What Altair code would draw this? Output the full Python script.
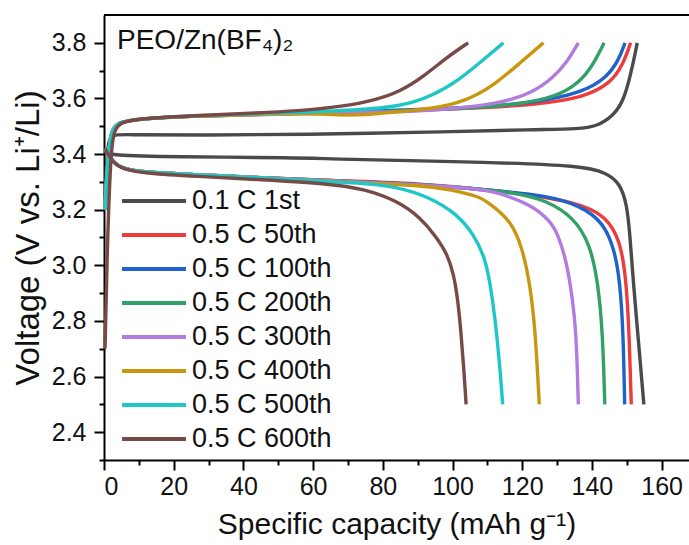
import altair as alt
import pandas as pd

series_names = ["0.1 C 1st", "0.5 C 50th", "0.5 C 100th", "0.5 C 200th",
                "0.5 C 300th", "0.5 C 400th", "0.5 C 500th", "0.5 C 600th"]
series_colors = ["#4a4a4a", "#ee3b3b", "#1e63c9", "#32a068", "#b27be0",
                 "#c9970d", "#1fc6c8", "#774a47"]

# ---- charge curves (capacity, voltage) ----
c1st_x = [0.3, 1.0, 1.8, 5, 29, 56, 100, 123, 136.6, 141.4, 146.1, 149.0, 150.9, 152.4, 153.0]
c1st_v = [3.25, 3.43, 3.47, 3.470, 3.468, 3.470, 3.480, 3.488, 3.490, 3.500, 3.537, 3.590, 3.675, 3.760, 3.80]
c50_x = [0.3, 1.2, 2.5, 5, 10, 25, 56, 100, 125, 137.5, 145.2, 149.0, 151.1]
c50_v = [3.20, 3.42, 3.50, 3.515, 3.527, 3.536, 3.547, 3.560, 3.578, 3.604, 3.652, 3.723, 3.80]
c100_x = [0.3, 1.2, 2.5, 5, 10, 25, 56, 100, 123.2, 137.5, 144.2, 147.6, 149.5]
c100_v = [3.20, 3.42, 3.50, 3.515, 3.527, 3.537, 3.548, 3.562, 3.582, 3.622, 3.675, 3.735, 3.80]
c200_x = [0.3, 1.2, 2.5, 5, 10, 25, 56, 90, 113.6, 128.0, 134.7, 139.5, 143.5]
c200_v = [3.20, 3.42, 3.50, 3.515, 3.527, 3.537, 3.547, 3.555, 3.570, 3.598, 3.640, 3.700, 3.80]
c300_x = [0.3, 1.2, 2.5, 5, 10, 25, 56, 80, 94.5, 113.6, 123.2, 128.9, 132.8, 136.1]
c300_v = [3.20, 3.42, 3.50, 3.515, 3.527, 3.537, 3.545, 3.550, 3.556, 3.580, 3.622, 3.675, 3.729, 3.80]
c400_x = [0.3, 1.2, 2.5, 5, 10, 25, 56, 63, 66, 76, 80, 94.5, 104.1, 111.7, 118.4, 126.1]
c400_v = [3.20, 3.42, 3.50, 3.515, 3.527, 3.537, 3.546, 3.544, 3.540, 3.541, 3.548, 3.562, 3.592, 3.646, 3.717, 3.80]
c500_x = [0.3, 1.2, 2.5, 5, 10, 25, 56, 72, 84.9, 94.5, 102.2, 107.9, 114.6]
c500_v = [3.20, 3.42, 3.50, 3.515, 3.527, 3.538, 3.550, 3.558, 3.570, 3.610, 3.670, 3.729, 3.80]
c600_x = [0.3, 1.0, 2.0, 3.0, 5, 10, 25, 45, 56, 65, 75.4, 84.9, 92.6, 98.3, 104.5]
c600_v = [2.70, 3.10, 3.42, 3.49, 3.515, 3.527, 3.538, 3.548, 3.556, 3.566, 3.586, 3.622, 3.688, 3.747, 3.80]

# ---- discharge curves (capacity, voltage) ----
d1st_x = [0.3, 1.5, 20, 56, 65, 112.7, 136.6, 144.2, 148.1, 150.0, 150.9, 151.9, 153.6, 154.9]
d1st_v = [3.41, 3.395, 3.390, 3.387, 3.382, 3.370, 3.358, 3.334, 3.293, 3.221, 3.113, 2.934, 2.694, 2.50]
d50_x = [0.3, 2.5, 5.4, 12, 26.5, 45, 65, 90, 112.7, 136.6, 144.2, 148.1, 149.8, 150.7, 151.3]
d50_v = [3.42, 3.37, 3.347, 3.334, 3.326, 3.315, 3.305, 3.295, 3.270, 3.227, 3.173, 3.089, 2.957, 2.754, 2.50]
d100_x = [0.3, 2.5, 5.4, 12, 26.5, 45, 65, 90, 112.7, 127.0, 136.6, 143.3, 146.6, 148.1, 149.0, 149.4]
d100_v = [3.42, 3.37, 3.347, 3.334, 3.326, 3.315, 3.304, 3.293, 3.268, 3.251, 3.215, 3.155, 3.053, 2.934, 2.754, 2.50]
d200_x = [0.3, 2.5, 5.4, 12, 26.5, 45, 65, 90, 117.4, 127.0, 134.7, 139.5, 141.8, 143.1, 143.7]
d200_v = [3.42, 3.37, 3.347, 3.334, 3.326, 3.315, 3.304, 3.292, 3.265, 3.233, 3.173, 3.077, 2.934, 2.755, 2.50]
d300_x = [0.3, 2.5, 5.4, 12, 26.5, 45, 65, 90, 107.9, 112.7, 122.2, 128.0, 130.3, 132.3, 133.6, 135.1, 135.7, 136.1]
d300_v = [3.42, 3.37, 3.347, 3.334, 3.326, 3.315, 3.304, 3.290, 3.275, 3.262, 3.221, 3.161, 3.110, 3.030, 2.950, 2.814, 2.680, 2.50]
d400_x = [0.3, 2.5, 5.4, 12, 26.5, 45, 65, 93.5, 103.1, 107.9, 110.8, 116.8, 120.1, 122.2, 123.7, 124.9]
d400_v = [3.42, 3.37, 3.347, 3.334, 3.326, 3.315, 3.300, 3.287, 3.262, 3.245, 3.221, 3.160, 3.060, 2.934, 2.778, 2.50]
d500_x = [0.3, 2.5, 5.4, 12, 26.5, 45, 65, 74.4, 84.0, 93.5, 101.2, 106.0, 109.3, 110.8, 112.2, 113.6, 114.4]
d500_v = [3.42, 3.37, 3.347, 3.334, 3.326, 3.315, 3.300, 3.295, 3.283, 3.245, 3.185, 3.113, 3.029, 2.934, 2.814, 2.634, 2.50]
d600_x = [0.3, 2.5, 5.4, 12, 26.5, 45, 65, 74.4, 84.0, 90.7, 95.5, 98.5, 100.3, 101.5, 102.5, 103.3, 103.9]
d600_v = [3.42, 3.37, 3.345, 3.330, 3.320, 3.308, 3.293, 3.275, 3.233, 3.173, 3.100, 3.040, 2.970, 2.880, 2.750, 2.620, 2.50]

charge = [(c1st_x, c1st_v), (c50_x, c50_v), (c100_x, c100_v), (c200_x, c200_v),
          (c300_x, c300_v), (c400_x, c400_v), (c500_x, c500_v), (c600_x, c600_v)]
discharge = [(d1st_x, d1st_v), (d50_x, d50_v), (d100_x, d100_v), (d200_x, d200_v),
             (d300_x, d300_v), (d400_x, d400_v), (d500_x, d500_v), (d600_x, d600_v)]

rows = []
for name, (cx, cv), (dx, dv) in zip(series_names, charge, discharge):
    for seg, xs, vs in (("charge", cx, cv), ("discharge", dx, dv)):
        for i, (a, b) in enumerate(zip(xs, vs)):
            rows.append({"cap": a, "volt": b, "series": name, "seg": name + seg, "idx": i})
df = pd.DataFrame(rows)

FONT = "Liberation Sans"
x_ticks = list(range(0, 161, 10))
y_ticks = [round(2.3 + 0.1 * i, 1) for i in range(16)]

lines = alt.Chart(df).mark_line(strokeWidth=3.4, interpolate="basis").encode(
    x=alt.X("cap:Q",
            scale=alt.Scale(domain=[0, 167.86], nice=False, zero=False),
            axis=alt.Axis(values=x_ticks,
                          labelExpr="datum.value % 20 == 0 ? datum.label : ''",
                          tickSize={"condition": {"test": "datum.value % 20 == 0", "value": 10}, "value": 5},
                          title="Specific capacity (mAh g\u207b\u00b9)", titleFontSize=30,
                          labelPadding=4, titlePadding=10)),
    y=alt.Y("volt:Q",
            scale=alt.Scale(domain=[2.3, 3.9], nice=False, zero=False),
            axis=alt.Axis(values=y_ticks, format=".1f",
                          labelExpr="round(datum.value * 10) % 2 == 0 ? datum.label : ''",
                          tickSize={"condition": {"test": "round(datum.value * 10) % 2 == 0", "value": 10}, "value": 5},
                          title="Voltage (V vs. Li\u207a/Li)", titleFontSize=33,
                          labelPadding=8, titlePadding=6)),
    color=alt.Color("series:N",
                    scale=alt.Scale(domain=series_names, range=series_colors),
                    sort=series_names,
                    legend=alt.Legend(title=None, orient="none", legendX=31, legendY=167,
                                      symbolType="M-1.88,0H1.88", symbolSize=1156,
                                      symbolStrokeWidth=4, labelFontSize=27,
                                      labelFont=FONT, labelColor="#111",
                                      labelOffset=19, rowPadding=2, padding=0)),
    detail="seg:N",
    order="idx:Q",
)

top_border = alt.Chart(pd.DataFrame({"k": [0]})).mark_rule(color="black", strokeWidth=2).encode(
    x=alt.value(0), x2=alt.value(585), y=alt.value(0))

label = alt.Chart(pd.DataFrame({"t": ["PEO/Zn(BF\u2084)\u2082"]})).mark_text(
    align="left", baseline="alphabetic", fontSize=28, font=FONT, color="#111").encode(
    x=alt.value(13), y=alt.value(34), text="t:N")

chart = alt.layer(lines, top_border, label).properties(
    width=585, height=445,
    autosize=alt.AutoSizeParams(type="none"),
    padding={"left": 104, "top": 15, "right": 0, "bottom": 85},
).configure_view(stroke=None).configure_axis(
    grid=False, domainColor="black", domainWidth=2, tickColor="black", tickWidth=2,
    labelFont=FONT, labelFontSize=25, labelColor="#111",
    titleFont=FONT, titleFontSize=29, titleFontWeight="normal", titleColor="#111",
)

chart.save("out.html", embed_options={"renderer": "svg", "actions": False})
